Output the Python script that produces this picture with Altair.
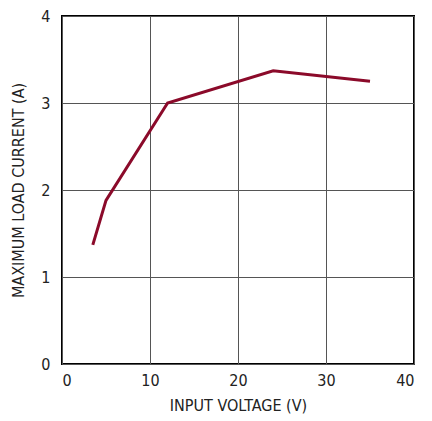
import altair as alt
import pandas as pd

vin = [3.5, 5.0, 12.0, 24.0, 35.0]
iload = [1.37, 1.88, 3.0, 3.37, 3.25]

df = pd.DataFrame({"vin": vin, "iload": iload})

FONT = "DejaVu Sans Condensed, Roboto, sans-serif"

chart = alt.Chart(df).mark_line(color="#8B0A2A", strokeWidth=3, strokeCap="butt").encode(
    x=alt.X("vin:Q", scale=alt.Scale(domain=[0, 40], nice=False),
            axis=alt.Axis(values=[0, 10, 20, 30, 40], title="INPUT VOLTAGE (V)")),
    y=alt.Y("iload:Q", scale=alt.Scale(domain=[0, 4], nice=False),
            axis=alt.Axis(values=[0, 1, 2, 3, 4], title="MAXIMUM LOAD CURRENT (A)")),
).properties(
    width=352, height=348,
    autosize=alt.AutoSizeParams(type="none"),
    padding={"left": 54, "top": 8, "right": 10, "bottom": 50},
).configure_view(
    stroke="black", strokeWidth=2
).configure_axis(
    domain=False, ticks=False, grid=True, gridColor="#555555", gridWidth=1,
    labelFont=FONT, labelFontSize=16, labelColor="#222222",
    titleFont=FONT, titleFontSize=16, titleFontWeight="normal", titleColor="#222222",
).configure_axisX(titlePadding=9, labelPadding=8).configure_axisY(titlePadding=14, labelPadding=12)

chart.save("out.html", embed_options={"renderer": "svg", "actions": False})
